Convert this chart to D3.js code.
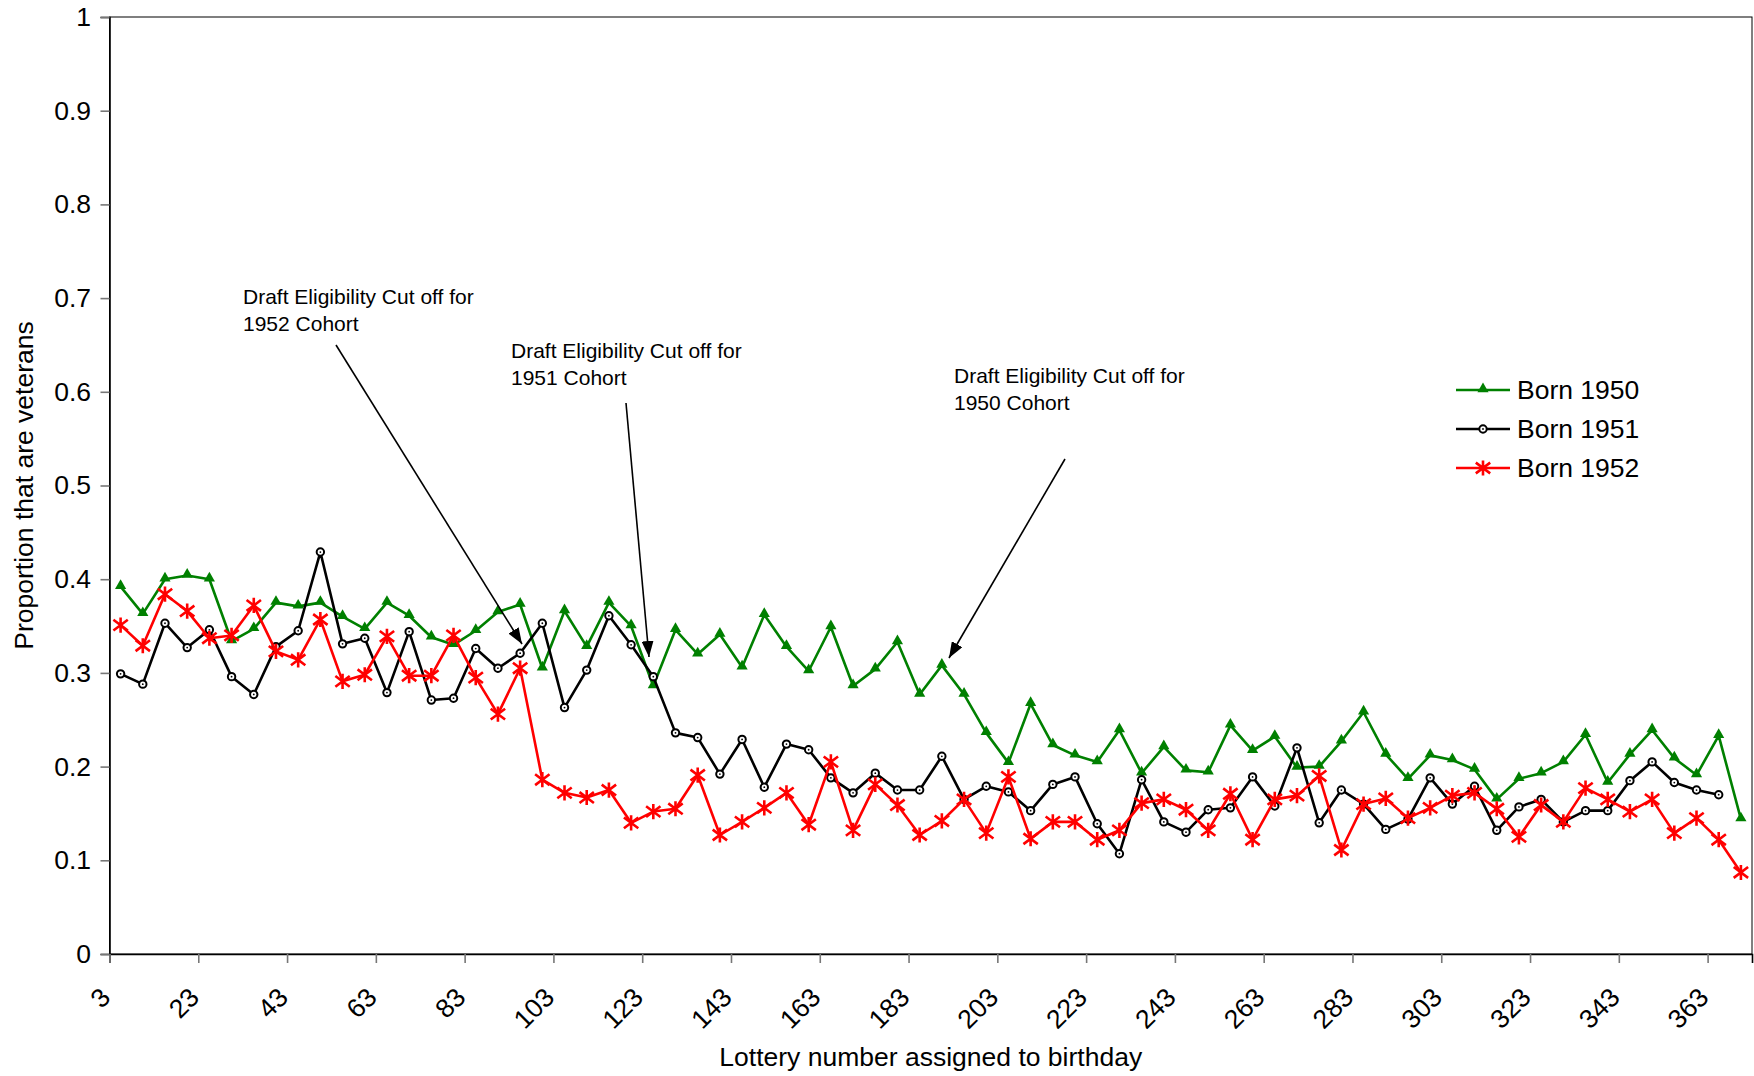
<!DOCTYPE html>
<html>
<head>
<meta charset="utf-8">
<script src="https://cdn.jsdelivr.net/npm/d3@7"></script>
<style>
  body { margin: 0; background: #fff; }
  svg { display: block; font-family: Arial, 'Liberation Sans', sans-serif; }
</style>
</head>
<body>
<div id="chart"></div>
<script>
// Lottery number groups (midpoint of each block of 5 birthdays)
const lotteryNumbers = [3, 8, 13, 18, 23, 28, 33, 38, 43, 48, 53, 58, 63, 68, 73, 78, 83, 88, 93, 98,
    103, 108, 113, 118, 123, 128, 133, 138, 143, 148, 153, 158, 163, 168, 173, 178, 183, 188, 193, 198,
    203, 208, 213, 218, 223, 228, 233, 238, 243, 248, 253, 258, 263, 268, 273, 278, 283, 288, 293, 298,
    303, 308, 313, 318, 323, 328, 333, 338, 343, 348, 353, 358, 363, 368];

// Proportion that are veterans, by cohort
const born1950 = [0.392, 0.363, 0.400, 0.404, 0.400, 0.334, 0.347, 0.375, 0.371, 0.375,
    0.360, 0.347, 0.375, 0.361, 0.338, 0.330, 0.345, 0.365, 0.373, 0.305,
    0.366, 0.328, 0.375, 0.350, 0.286, 0.346, 0.320, 0.341, 0.306, 0.362,
    0.328, 0.302, 0.349, 0.286, 0.304, 0.333, 0.277, 0.308, 0.277, 0.236,
    0.204, 0.267, 0.223, 0.212, 0.205, 0.239, 0.193, 0.221, 0.196, 0.194,
    0.244, 0.217, 0.232, 0.199, 0.200, 0.227, 0.258, 0.213, 0.187, 0.212,
    0.207, 0.197, 0.165, 0.187, 0.193, 0.205, 0.234, 0.183, 0.213, 0.239,
    0.209, 0.191, 0.233, 0.144];
const born1951 = [0.299, 0.288, 0.353, 0.327, 0.346, 0.296, 0.277, 0.328, 0.345, 0.429,
    0.331, 0.337, 0.279, 0.344, 0.271, 0.273, 0.326, 0.305, 0.321, 0.353,
    0.263, 0.303, 0.361, 0.330, 0.296, 0.236, 0.231, 0.192, 0.229, 0.178,
    0.224, 0.218, 0.188, 0.172, 0.193, 0.175, 0.175, 0.211, 0.165, 0.179,
    0.173, 0.153, 0.181, 0.189, 0.139, 0.107, 0.186, 0.141, 0.130, 0.154,
    0.156, 0.189, 0.158, 0.220, 0.140, 0.175, 0.160, 0.133, 0.144, 0.188,
    0.160, 0.179, 0.132, 0.157, 0.165, 0.141, 0.153, 0.153, 0.185, 0.205,
    0.183, 0.175, 0.170];
const born1952 = [0.351, 0.329, 0.384, 0.366, 0.337, 0.340, 0.372, 0.323, 0.314, 0.357,
    0.291, 0.298, 0.339, 0.297, 0.297, 0.340, 0.295, 0.256, 0.305, 0.186,
    0.172, 0.167, 0.175, 0.140, 0.152, 0.155, 0.191, 0.127, 0.141, 0.156,
    0.172, 0.138, 0.205, 0.132, 0.181, 0.159, 0.127, 0.142, 0.165, 0.129,
    0.189, 0.123, 0.141, 0.141, 0.122, 0.132, 0.161, 0.165, 0.154, 0.132,
    0.171, 0.122, 0.165, 0.169, 0.190, 0.111, 0.160, 0.166, 0.145, 0.156,
    0.169, 0.172, 0.155, 0.125, 0.159, 0.141, 0.177, 0.165, 0.152, 0.165,
    0.129, 0.145, 0.122, 0.087];

// Tick labels
const xTickLabels = [3, 23, 43, 63, 83, 103, 123, 143, 163, 183, 203, 223, 243, 263, 283, 303, 323, 343, 363];
const yTickValues = [0, 0.1, 0.2, 0.3, 0.4, 0.5, 0.6, 0.7, 0.8, 0.9, 1];

const seriesNames = ['Born 1950', 'Born 1951', 'Born 1952'];
const annotationTexts = [
    ['Draft Eligibility Cut off for', '1952 Cohort'],
    ['Draft Eligibility Cut off for', '1951 Cohort'],
    ['Draft Eligibility Cut off for', '1950 Cohort']
];

// Layout
const W = 1754, H = 1076;
const plot = { left: 109.5, right: 1752, top: 17, bottom: 954 };

const svg = d3.select('#chart').append('svg')
    .attr('width', W)
    .attr('height', H);

svg.append('rect').attr('width', W).attr('height', H).attr('fill', '#fff');

// Category scale: each group occupies one slot, points sit in the middle
const x = d3.scaleLinear()
    .domain([0, lotteryNumbers.length])
    .range([plot.left, plot.right]);
const y = d3.scaleLinear()
    .domain([0, 1])
    .range([plot.bottom, plot.top]);

// Plot frame
svg.append('rect')
    .attr('x', plot.left)
    .attr('y', plot.top)
    .attr('width', plot.right - plot.left)
    .attr('height', plot.bottom - plot.top)
    .attr('fill', 'none')
    .attr('stroke', '#000')
    .attr('stroke-width', 1);

// Y axis
const yAxis = svg.append('g')
    .attr('transform', `translate(${plot.left},0)`)
    .call(d3.axisLeft(y)
        .tickValues(yTickValues)
        .tickFormat(d => String(+d.toFixed(1)))
        .tickSize(9)
        .tickPadding(9.5));
yAxis.select('.domain').attr('stroke', '#000').attr('stroke-width', 1.6);
yAxis.selectAll('.tick line').attr('stroke', '#777').attr('stroke-width', 1.6);
yAxis.selectAll('.tick text')
    .style('font-size', '26.5px')
    .attr('fill', '#000');

// X axis: ticks at the left edge of every 4th category
const xAxis = svg.append('g')
    .attr('transform', `translate(0,${plot.bottom})`)
    .call(d3.axisBottom(x)
        .tickValues(xTickLabels.map(v => lotteryNumbers.indexOf(v)))
        .tickFormat(i => lotteryNumbers[i])
        .tickSize(9));
xAxis.select('.domain').attr('stroke', '#000').attr('stroke-width', 1.6);
xAxis.selectAll('.tick line').attr('stroke', '#777').attr('stroke-width', 1.6);
xAxis.selectAll('.tick text')
    .attr('x', 0)
    .attr('y', 0)
    .attr('dy', 0)
    .attr('text-anchor', 'end')
    .attr('transform', 'translate(2,45) rotate(-45)')
    .style('font-size', '26.5px')
    .attr('fill', '#000');

// Axis titles
svg.append('text')
    .attr('x', (plot.left + plot.right) / 2)
    .attr('y', 1066)
    .attr('text-anchor', 'middle')
    .style('font-size', '26.5px')
    .text('Lottery number assigned to birthday');

svg.append('text')
    .attr('transform', `translate(33, ${(plot.top + plot.bottom) / 2}) rotate(-90)`)
    .attr('text-anchor', 'middle')
    .style('font-size', '26.5px')
    .text('Proportion that are veterans');

// Marker shapes
const triangle = d3.symbol().type(d3.symbolTriangle).size(54);
const drawMarker = (g, kind, color) => {
    if (kind === 'triangle') {
        g.append('path').attr('d', triangle()).attr('fill', color).attr('transform', 'translate(0,-1)');
    } else if (kind === 'circle') {
        g.append('circle').attr('r', 3.7).attr('fill', '#fff').attr('stroke', color).attr('stroke-width', 2);
        g.append('circle').attr('r', 0.9).attr('fill', color);
    } else {
        const s = 7.6;
        const dx = 7.2, dy = 5.4;
        g.append('path')
            .attr('d', `M0,${-s}L0,${s}M${-dx},${-dy}L${dx},${dy}M${-dx},${dy}L${dx},${-dy}`)
            .attr('stroke', color)
            .attr('stroke-width', 2.6)
            .attr('fill', 'none');
    }
};

const series = [
    { name: seriesNames[0], values: born1950, color: '#008000', marker: 'triangle' },
    { name: seriesNames[1], values: born1951, color: '#000000', marker: 'circle' },
    { name: seriesNames[2], values: born1952, color: '#ff0000', marker: 'star' }
];

const line = d3.line()
    .x((d, i) => x(i + 0.5))
    .y(d => y(d));

series.forEach(s => {
    const g = svg.append('g');
    g.append('path')
        .datum(s.values)
        .attr('d', line)
        .attr('fill', 'none')
        .attr('stroke', s.color)
        .attr('stroke-width', 2.6)
        .attr('stroke-linejoin', 'round');
    s.values.forEach((v, i) => {
        const m = g.append('g').attr('transform', `translate(${x(i + 0.5)},${y(v)})`);
        drawMarker(m, s.marker, s.color);
    });
});

// Arrowhead
svg.append('defs').append('marker')
    .attr('id', 'arrow')
    .attr('viewBox', '0 0 16 12')
    .attr('refX', 16)
    .attr('refY', 6)
    .attr('markerUnits', 'userSpaceOnUse')
    .attr('markerWidth', 16)
    .attr('markerHeight', 12)
    .attr('orient', 'auto')
    .append('path')
    .attr('d', 'M0,0L16,6L0,12Z')
    .attr('fill', '#000');

// Annotations (text position and arrow in pixels)
const annotations = [
    { tx: 243, ty: 304, from: [336, 345], to: [522, 644] },
    { tx: 511, ty: 358, from: [626, 403], to: [649, 657] },
    { tx: 954, ty: 383, from: [1065, 459], to: [949, 658] }
];
annotations.forEach((a, k) => {
    annotationTexts[k].forEach((t, j) => {
        svg.append('text')
            .attr('x', a.tx)
            .attr('y', a.ty + j * 27)
            .style('font-size', '21px')
            .text(t);
    });
    svg.append('line')
        .attr('x1', a.from[0]).attr('y1', a.from[1])
        .attr('x2', a.to[0]).attr('y2', a.to[1])
        .attr('stroke', '#000')
        .attr('stroke-width', 1.6)
        .attr('marker-end', 'url(#arrow)');
});

// Legend
const legend = svg.append('g').attr('transform', 'translate(1456,390)');
series.forEach((s, i) => {
    const row = legend.append('g').attr('transform', `translate(0,${i * 39})`);
    row.append('line')
        .attr('x1', 0).attr('x2', 54)
        .attr('stroke', s.color)
        .attr('stroke-width', 2.6);
    const m = row.append('g').attr('transform', 'translate(27,0)');
    drawMarker(m, s.marker, s.color);
    row.append('text')
        .attr('x', 61)
        .attr('dy', '0.35em')
        .style('font-size', '26.5px')
        .text(s.name);
});
</script>
</body>
</html>
